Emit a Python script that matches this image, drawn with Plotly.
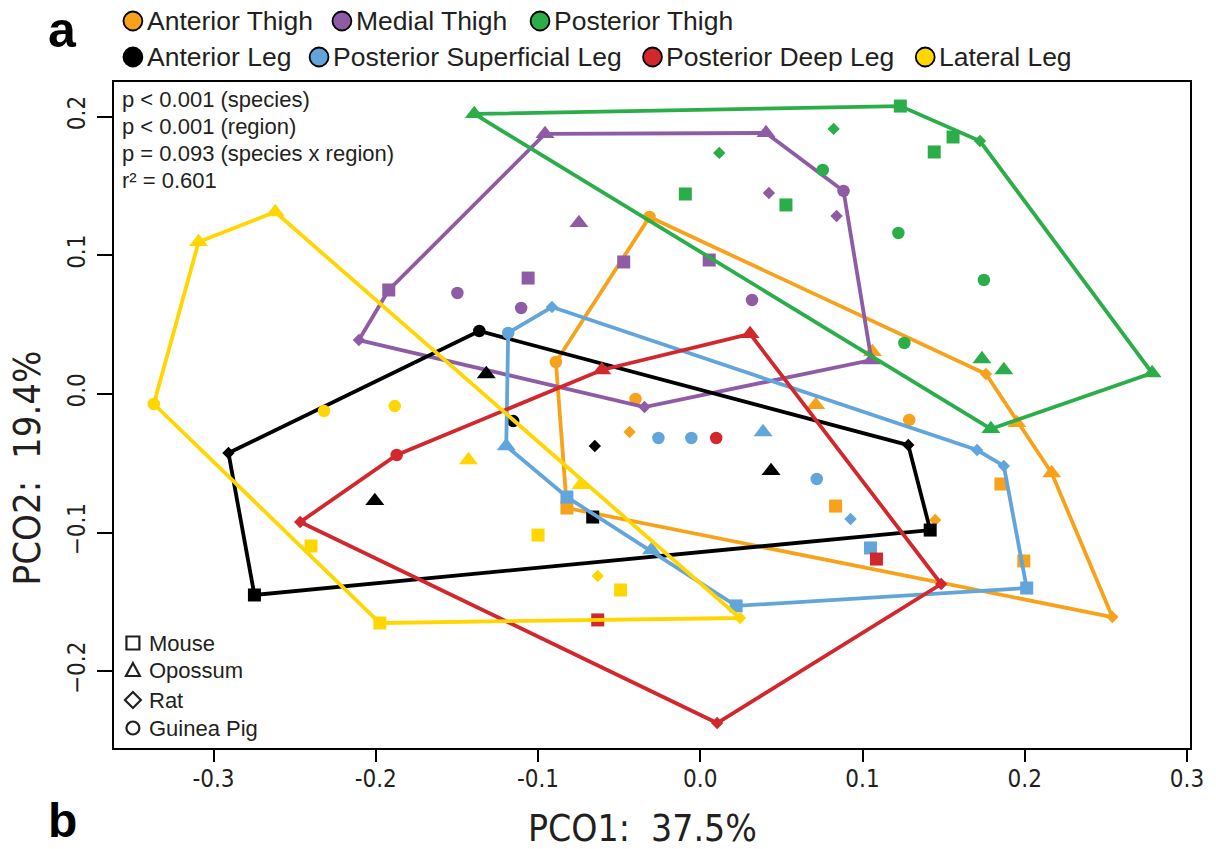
import plotly.graph_objects as go

# ---------------- data (PCO1, PCO2) ----------------
# species codes: M = Mouse, O = Opossum, R = Rat, G = Guinea Pig
at_x = [-0.0822, 0.0834, 0.1853, 0.1994, 0.1951, 0.2166, 0.0712, 0.1061, 0.1761, 0.2540, -0.0436, 0.1448, -0.0313, -0.0890, -0.0399, 0.1288, 0.2012]
at_y = [-0.0822, -0.0808, -0.0649, -0.1204, -0.0209, -0.0570, -0.0079, 0.0303, 0.0144, -0.1608, -0.0274, -0.0908, 0.1276, 0.0231, -0.0036, -0.0187, -0.1399]
at_sp = ["M", "M", "M", "M", "O", "O", "O", "O", "R", "R", "R", "R", "G", "G", "G", "G", "G"]

mt_x = [-0.1920, -0.1061, -0.0472, 0.0055, -0.0957, 0.0405, 0.1055, -0.0748, -0.0344, -0.2104, 0.0423, 0.0840, 0.0883, -0.1497, -0.1104, 0.0319]
mt_y = [0.0750, 0.0836, 0.0952, 0.0966, 0.1875, 0.1882, 0.0245, 0.1233, -0.0094, 0.0389, 0.1449, 0.1283, 0.1464, 0.0728, 0.0620, 0.0678]
mt_sp = ["M", "M", "M", "M", "O", "O", "O", "O", "R", "R", "R", "R", "G", "G", "G", "G"]

pt_x = [0.1233, 0.1558, 0.1442, -0.0092, 0.0528, -0.1393, 0.2785, 0.1791, 0.1736, 0.1871, 0.1724, 0.0822, 0.0117, 0.0755, 0.1221, 0.1748, 0.1258]
pt_y = [0.2076, 0.1853, 0.1745, 0.1442, 0.1363, 0.2019, 0.0151, -0.0252, 0.0252, 0.0173, 0.1824, 0.1911, 0.1738, 0.1615, 0.1161, 0.0822, 0.0368]
pt_sp = ["M", "M", "M", "M", "M", "O", "O", "O", "O", "O", "R", "R", "R", "G", "G", "G", "G"]

al_x = [0.1417, -0.2748, -0.0663, -0.1319, 0.0436, -0.2006, 0.1282, -0.2908, -0.0650, -0.1362, -0.1153]
al_y = [-0.0981, -0.1449, -0.0887, 0.0144, -0.0555, -0.0771, -0.0368, -0.0425, -0.0375, 0.0454, -0.0195]
al_sp = ["M", "M", "M", "O", "O", "O", "R", "R", "R", "G", "G"]

psl_x = [0.2012, 0.0221, -0.0822, 0.1049, -0.0301, -0.1196, 0.0387, -0.0914, 0.1706, 0.1871, 0.0926, -0.1184, -0.0258, -0.0055, 0.0718]
psl_y = [-0.1399, -0.1528, -0.0743, -0.1110, -0.1125, -0.0375, -0.0274, 0.0627, -0.0404, -0.0519, -0.0901, 0.0440, -0.0317, -0.0317, -0.0613]
psl_sp = ["M", "M", "M", "M", "O", "O", "O", "R", "R", "R", "R", "G", "G", "G", "G"]

pdl_x = [0.1086, -0.0632, -0.0607, 0.0307, 0.1485, 0.0104, -0.2466, -0.1871, 0.0098]
pdl_y = [-0.1190, -0.1629, 0.0173, 0.0433, -0.1370, -0.2372, -0.0923, -0.0440, -0.0317]
pdl_sp = ["M", "M", "O", "O", "R", "R", "R", "G", "G"]

ll_x = [-0.1975, -0.2399, -0.1000, -0.0491, -0.3092, -0.2620, -0.0736, -0.1429, 0.0245, -0.0632, -0.3368, -0.2319, -0.1883]
ll_y = [-0.1651, -0.1096, -0.1017, -0.1413, 0.1096, 0.1312, -0.0656, -0.0476, -0.1615, -0.1312, -0.0072, -0.0123, -0.0087]
ll_sp = ["M", "M", "M", "M", "O", "O", "O", "O", "R", "R", "G", "G", "G"]

region_names = ["Anterior Thigh", "Medial Thigh", "Posterior Thigh", "Anterior Leg",
                "Posterior Superficial Leg", "Posterior Deep Leg", "Lateral Leg"]
region_colors = ["#F7A21B", "#8D5CA5", "#2BAE49", "#000000", "#62A5DB", "#D2272D", "#FFD600"]
species_names = ["Mouse", "Opossum", "Rat", "Guinea Pig"]

x_ticks = [-0.3, -0.2, -0.1, 0.0, 0.1, 0.2, 0.3]
x_tick_labels = ["-0.3", "-0.2", "-0.1", "0.0", "0.1", "0.2", "0.3"]
y_ticks = [-0.2, -0.1, 0.0, 0.1, 0.2]
y_tick_labels = ["\u22120.2", "\u22120.1", "0.0", "0.1", "0.2"]

stats_lines = ["p < 0.001 (species)", "p < 0.001 (region)",
               "p = 0.093 (species x region)", "r\u00b2 = 0.601"]
x_title = "PCO1:\u00a0 37.5%"
y_title = "PCO2:\u00a0 19.4%"

regions = [(at_x, at_y, at_sp), (mt_x, mt_y, mt_sp), (pt_x, pt_y, pt_sp), (al_x, al_y, al_sp),
           (psl_x, psl_y, psl_sp), (pdl_x, pdl_y, pdl_sp), (ll_x, ll_y, ll_sp)]

# ---------------- styling ----------------
SYM = {"M": "square", "O": "triangle-up", "R": "diamond", "G": "circle"}
SIZE = {"M": 13, "O": 16.5, "R": 9.5, "G": 12.5}
TXT = "#231F20"
SANS = "Liberation Sans, Arial, Helvetica, sans-serif"
NARROW = "Liberation Sans Narrow, Arial Narrow, DejaVu Sans Condensed, Liberation Sans, sans-serif"

W, H = 1216, 849
L, R, T, B = 114, 1195, 82, 748


def fx(px):
    return (px - L) / (R - L)


def fy(py):
    return (B - py) / (B - T)


def convex_hull(xs, ys):
    pts = sorted(set(zip(xs, ys)))
    if len(pts) < 3:
        return pts

    def cross(o, a, b):
        return (a[0] - o[0]) * (b[1] - o[1]) - (a[1] - o[1]) * (b[0] - o[0])

    lower, upper = [], []
    for p in pts:
        while len(lower) >= 2 and cross(lower[-2], lower[-1], p) <= 0:
            lower.pop()
        lower.append(p)
    for p in reversed(pts):
        while len(upper) >= 2 and cross(upper[-2], upper[-1], p) <= 0:
            upper.pop()
        upper.append(p)
    return lower[:-1] + upper[:-1]


fig = go.Figure()

for (xs, ys, sp), name, col in zip(regions, region_names, region_colors):
    hull = convex_hull(xs, ys)
    hull = hull + [hull[0]]
    fig.add_trace(go.Scatter(
        x=[p[0] for p in hull], y=[p[1] for p in hull], mode="lines",
        line=dict(color=col, width=3.8), hoverinfo="skip", showlegend=False))
    fig.add_trace(go.Scatter(
        x=xs, y=ys, mode="markers", name=name, showlegend=False,
        marker=dict(color=col, symbol=[SYM[s] for s in sp], size=[SIZE[s] for s in sp],
                    opacity=1, line=dict(width=0))))

shapes = []
annotations = []

# panel letters
annotations.append(dict(x=fx(62), y=fy(30), xref="paper", yref="paper", text="<b>a</b>",
                        showarrow=False, font=dict(family=SANS, size=50, color="black"),
                        xanchor="center", yanchor="middle"))
annotations.append(dict(x=fx(62), y=fy(849), xref="paper", yref="paper", text="<b>b</b>",
                        showarrow=False, font=dict(family=SANS, size=48, color="black"),
                        xanchor="center", yanchor="bottom"))

# region legend (two rows)
legend_xy = [(133, 21), (343, 21), (542, 21), (133, 57), (320, 57), (655, 57), (929, 57)]
rad = 9.5
for (cx, cy), name, col in zip(legend_xy, region_names, region_colors):
    shapes.append(dict(type="circle", xref="paper", yref="paper",
                       x0=fx(cx - rad), x1=fx(cx + rad), y0=fy(cy + rad), y1=fy(cy - rad),
                       fillcolor=col, line=dict(color="black", width=1.8)))
    annotations.append(dict(x=fx(cx + 12), y=fy(cy), xref="paper", yref="paper", text=name,
                            showarrow=False, font=dict(family=SANS, size=26.5, color=TXT),
                            xanchor="left", yanchor="middle"))

# statistics text
for i, line in enumerate(stats_lines):
    annotations.append(dict(x=fx(120), y=fy(100 + 26.7 * i), xref="paper", yref="paper", text=line,
                            showarrow=False, font=dict(family=SANS, size=22, color=TXT),
                            xanchor="left", yanchor="middle"))

# species legend (open symbols)
sp_y = [643, 670, 700, 728]
sx = 133
s = 6.5
lw = dict(color=TXT, width=2.2)
shapes.append(dict(type="rect", xref="paper", yref="paper", x0=fx(sx - s), x1=fx(sx + s),
                   y0=fy(sp_y[0] + s), y1=fy(sp_y[0] - s), line=lw))
ty = sp_y[1]
shapes.append(dict(type="path", xref="paper", yref="paper",
                   path="M {} {} L {} {} L {} {} Z".format(fx(sx - 7), fy(ty + 6), fx(sx + 7), fy(ty + 6),
                                                          fx(sx), fy(ty - 7)), line=lw))
dy = sp_y[2]
shapes.append(dict(type="path", xref="paper", yref="paper",
                   path="M {} {} L {} {} L {} {} L {} {} Z".format(fx(sx - 8), fy(dy), fx(sx), fy(dy - 8),
                                                                  fx(sx + 8), fy(dy), fx(sx), fy(dy + 8)),
                   line=lw))
cy = sp_y[3]
shapes.append(dict(type="circle", xref="paper", yref="paper", x0=fx(sx - 6.5), x1=fx(sx + 6.5),
                   y0=fy(cy + 6.5), y1=fy(cy - 6.5), line=lw))
for yy, name in zip(sp_y, species_names):
    annotations.append(dict(x=fx(147), y=fy(yy), xref="paper", yref="paper", text=name,
                            showarrow=False, font=dict(family=SANS, size=22, color=TXT),
                            xanchor="left", yanchor="middle"))

# axis titles
annotations.append(dict(x=fx(645), y=fy(828), xref="paper", yref="paper", text=x_title,
                        showarrow=False, font=dict(family=NARROW, size=37, color=TXT),
                        xanchor="center", yanchor="middle"))
annotations.append(dict(x=fx(27), y=fy(468), xref="paper", yref="paper", text=y_title,
                        showarrow=False, font=dict(family=NARROW, size=38, color=TXT),
                        xanchor="center", yanchor="middle", textangle=-90))

axis_common = dict(showgrid=False, zeroline=False, showline=True, mirror=True,
                   linecolor="black", linewidth=2, ticks="outside", tickcolor="black",
                   tickwidth=1.5, tickfont=dict(family=NARROW, size=24, color=TXT))

fig.update_layout(
    width=W, height=H,
    margin=dict(l=L, r=W - R, t=T, b=H - B, pad=0),
    paper_bgcolor="white", plot_bgcolor="white",
    showlegend=False,
    xaxis=dict(range=[(L - 703) / 1630, (R - 703) / 1630], tickvals=x_ticks, ticktext=x_tick_labels,
               ticklen=12, ticklabelstandoff=-4, **axis_common),
    yaxis=dict(range=[(394 - B) / 1387, (394 - T) / 1387], tickvals=y_ticks, ticktext=y_tick_labels,
               ticklen=15, tickangle=-90, ticklabelstandoff=2, **axis_common),
    shapes=shapes,
    annotations=annotations,
)

fig.write_html("out.html", config={"displayModeBar": False},
               post_script="document.body.style.margin='0px';document.body.style.overflow='hidden';")
